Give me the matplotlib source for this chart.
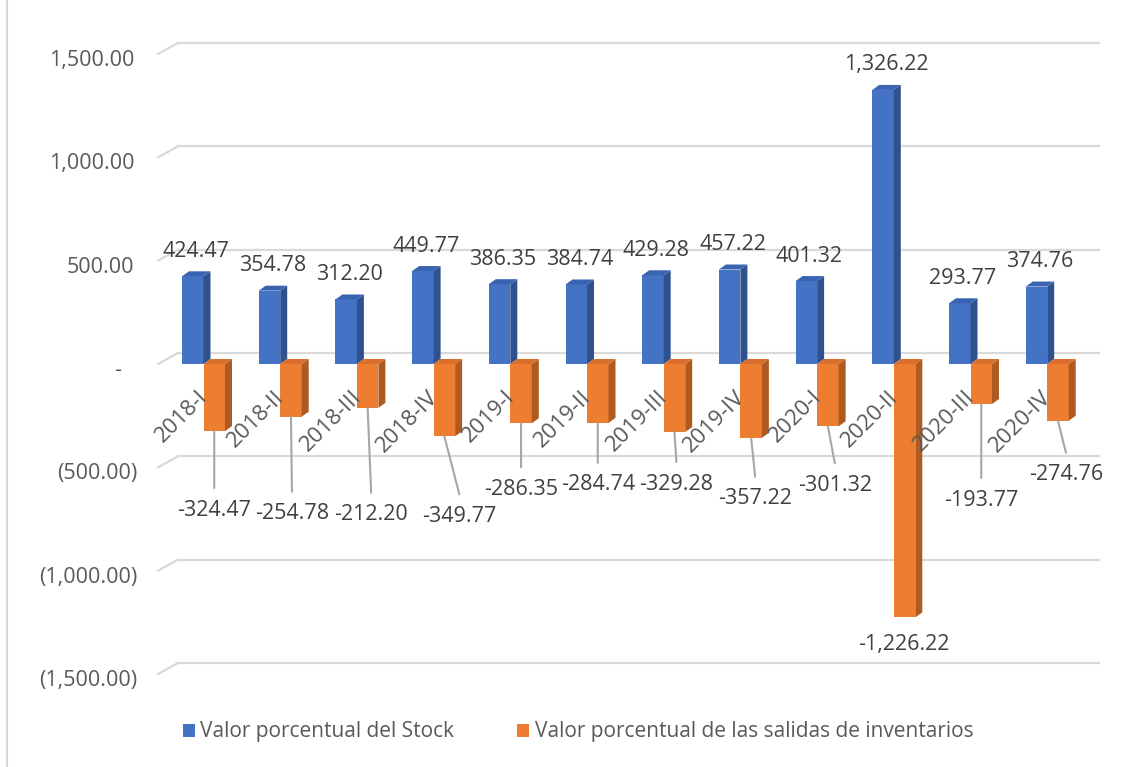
import matplotlib
matplotlib.use("Agg")
import matplotlib.pyplot as plt
from matplotlib.patches import Polygon, Patch, Rectangle
from matplotlib.transforms import ScaledTranslation
import numpy as np

plt.rcParams['font.family'] = ['Open Sans', 'DejaVu Sans']

categories = ["2018-I", "2018-II", "2018-III", "2018-IV", "2019-I", "2019-II",
              "2019-III", "2019-IV", "2020-I", "2020-II", "2020-III", "2020-IV"]
stock = [424.47, 354.78, 312.20, 449.77, 386.35, 384.74,
         429.28, 457.22, 401.32, 1326.22, 293.77, 374.76]
salidas = [-324.47, -254.78, -212.20, -349.77, -286.35, -284.74,
           -329.28, -357.22, -301.32, -1226.22, -193.77, -274.76]
series_names = ["Valor porcentual del Stock",
                "Valor porcentual de las salidas de inventarios"]
yticks = [-1500, -1000, -500, 0, 500, 1000, 1500]

# label placement (pixels) for the negative series, relative to bar bottom
neg_label_offsets = [(0, 77), (1, 95), (3.5, 105), (15, 78), (0, 64), (0, 60),
                     (2, 50), (4, 59), (7, 57), (-1, 25), (0, 94), (8, 52)]
neg_leader = [True] * 9 + [False] + [True] * 2

W, H = 1137, 767
fig = plt.figure(figsize=(W / 100, H / 100), dpi=100)
fig.patch.set_facecolor("white")

ax_l, ax_r, ax_top, ax_bot = 158, 1079, 54, 674
ax = fig.add_axes([ax_l / W, (H - ax_bot) / H, (ax_r - ax_l) / W, (ax_bot - ax_top) / H])
xmin = (ax_l - 203.5) / 76.7
xmax = (ax_r - 203.5) / 76.7
ax.set_xlim(xmin, xmax)
ax.set_ylim(-1500, 1500)
for s in ax.spines.values():
    s.set_visible(False)
ax.set_xticks([])
ax.patch.set_alpha(0)

px_x = (ax_r - ax_l) / (xmax - xmin)
px_y = (ax_bot - ax_top) / 3000.0

# back wall gridlines & floor diagonals
GX, GY = 20, 11
back = ax.transData + ScaledTranslation(GX / 100, GY / 100, fig.dpi_scale_trans)
grid_c = "#d9d9d9"
for t in yticks:
    ax.plot([xmin, xmax], [t, t], color=grid_c, lw=1.6, transform=back,
            clip_on=False, zorder=0)
    ax.plot([xmin, xmin + GX / px_x], [t, t + GY / px_y], color=grid_c, lw=1.6,
            clip_on=False, zorder=0)

# y tick labels
def fmt_acc(v):
    if v == 0:
        return "-"
    if v < 0:
        return "({:,.2f})".format(-v)
    return "{:,.2f}".format(v)

ax.set_yticks(yticks)
ax.set_yticklabels([fmt_acc(v) for v in yticks])
ax.tick_params(axis="y", length=0, pad=15, labelsize=15.5, labelcolor="#595959")
for t, lab in zip(yticks, ax.get_yticklabels()):
    dx = 0
    if t > 0:
        dx = -3
    elif t == 0:
        dx = -16
    lab.set_transform(lab.get_transform() + ScaledTranslation(dx / 100, -4 / 100, fig.dpi_scale_trans))

x = np.arange(len(categories))
bw = 21.5 / 76.7
DX, DY = 7, 5
dxd, dyd = DX / px_x, DY / px_y

blue_f, blue_s, blue_t = "#4472C4", "#2F528F", "#3A64B2"
or_f, or_s, or_t = "#ED7D31", "#AE5A21", "#D96F2A"

ax.bar(x - bw / 2, stock, width=bw, color=blue_f, zorder=2, linewidth=0)
for i, v in enumerate(stock):
    l, r = i - bw, i
    ax.add_patch(Polygon([(r, 0), (r + dxd, dyd), (r + dxd, v + dyd), (r, v)],
                         closed=True, facecolor=blue_s, edgecolor="none", zorder=2))
    ax.add_patch(Polygon([(l, v), (r, v), (r + dxd, v + dyd), (l + dxd, v + dyd)],
                         closed=True, facecolor=blue_t, edgecolor="none", zorder=2))

ax.bar(x + bw / 2, salidas, width=bw, color=or_f, zorder=3, linewidth=0)
for i, v in enumerate(salidas):
    l, r = i, i + bw
    ax.add_patch(Polygon([(r, v), (r + dxd, v + dyd), (r + dxd, dyd), (r, 0)],
                         closed=True, facecolor=or_s, edgecolor="none", zorder=3))
    ax.add_patch(Polygon([(l, 0), (r, 0), (r + dxd, dyd), (l + dxd, dyd)],
                         closed=True, facecolor=or_t, edgecolor="none", zorder=3))

# category labels
for i, c in enumerate(categories):
    ax.annotate(c, xy=(i, 0), xytext=(1, -30), textcoords="offset pixels",
                rotation=45, rotation_mode="anchor", ha="right", va="center",
                fontsize=16, color="#595959", zorder=5)

# data labels positive
for i, v in enumerate(stock):
    ax.annotate("{:,.2f}".format(v), xy=(i - bw / 2, v), xytext=(3, 25),
                textcoords="offset pixels", ha="center", va="center",
                fontsize=15.5, color="#404040", zorder=6)

# data labels negative with leader lines
for i, v in enumerate(salidas):
    ox, oy = neg_label_offsets[i]
    cx = i + bw / 2
    ax.annotate("{:,.2f}".format(v), xy=(cx, v), xytext=(ox, -oy - 2),
                textcoords="offset pixels", ha="center", va="center",
                fontsize=15.5, color="#404040", zorder=6)
    if neg_leader[i]:
        ax.annotate("", xy=(cx, v), xytext=(ox, -oy + 20), textcoords="offset pixels",
                    arrowprops=dict(arrowstyle="-", color="#a6a6a6", lw=1.5,
                                    shrinkA=0, shrinkB=0), zorder=4)

# legend
handles = [Patch(facecolor=blue_f, edgecolor="none", label=series_names[0]),
           Patch(facecolor=or_f, edgecolor="none", label=series_names[1])]
leg = fig.legend(handles=handles, loc="center", bbox_to_anchor=(578 / W, 1 - 732 / H),
                 ncol=2, frameon=False, fontsize=15, handlelength=0.6, handleheight=0.6,
                 handletextpad=0.25, columnspacing=3.0, labelcolor="#595959")

# chart border
fig.add_artist(Rectangle((7 / W, -0.01), 1.2, 1.2, transform=fig.transFigure,
                         fill=False, edgecolor="#d9d9d9", lw=1.5))

fig.savefig("out.png", dpi=100, facecolor="white")
